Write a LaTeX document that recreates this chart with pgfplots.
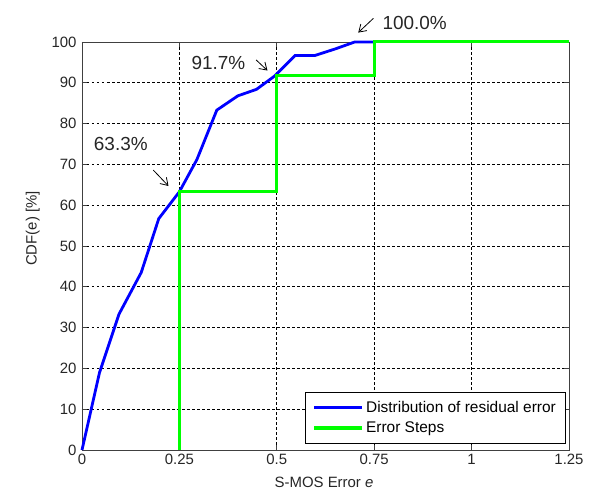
\documentclass[border=0pt]{standalone}
\usepackage{pgfplots}
\pgfplotsset{compat=1.18}
\usepackage{fontspec}
\setmainfont{Liberation Sans}
\usetikzlibrary{arrows.meta}
\definecolor{mblue}{RGB}{0,0,255}
\definecolor{mgreen}{RGB}{0,255,0}
\begin{document}
\begin{tikzpicture}[x=1bp,y=1bp]
\path[use as bounding box] (-82,-42) rectangle (517,450);
\begin{axis}[
  at={(0,0)}, anchor=south west,
  scale only axis, width=487bp, height=408bp,
  xmin=0, xmax=1.25, ymin=0, ymax=100,
  xtick={0,0.25,0.5,0.75,1,1.25},
  xticklabels={0,0.25,0.5,0.75,1,1.25},
  ytick={0,10,20,30,40,50,60,70,80,90,100},
  grid=major,
  grid style={black, dash pattern=on 2.5bp off 2.5bp, line width=0.7bp},
  tick align=inside,
  axis line style={black!75, line width=0.9bp},
  major tick style={black!75, line width=0.8bp},
  major tick length=5bp,
  tick label style={font=\fontsize{15}{17}\selectfont, text=black!85},
  /pgf/number format/assume math mode=true,
  xticklabel style={yshift=-1bp},
  yticklabel style={xshift=-2bp},
  xlabel={S-MOS Error \textit{e}},
  ylabel={CDF(e) [\%]},
  every axis x label/.style={at={(axis description cs:0.497,0)}, anchor=center, yshift=-32.7bp, font=\fontsize{15}{17}\selectfont, text=black!85},
  every axis y label/.style={at={(axis description cs:0,0.543)}, anchor=center, xshift=-49.3bp, rotate=90, font=\fontsize{15}{17}\selectfont, text=black!85},
  legend style={at={(axis description cs:0.9918,0.0164)}, anchor=south east,
    draw=black, fill=white,
    font=\fontsize{15.5}{17}\selectfont, row sep=4bp, inner ysep=7bp, inner xsep=7bp,
    nodes={inner sep=2bp}},
  legend cell align=left,
  legend image code/.code={\draw[#1, line width=3.5bp] (0bp,0bp) -- (48bp,0bp);},
  clip=false,
]
\addplot[mblue, line width=2.8bp] coordinates {
  (0,0) (0.045,19) (0.095,33.3) (0.152,43.5) (0.197,56.7) (0.25,63.3)
  (0.295,71.2) (0.346,83.3) (0.4,86.8) (0.448,88.4) (0.495,91.7)
  (0.547,96.7) (0.598,96.7) (0.65,98.3) (0.7,100) (0.75,100)
};
\addlegendentry{Distribution of residual error}
\addplot[mgreen, line width=3bp] coordinates {
  (0.25,0) (0.25,63.3) (0.5,63.3) (0.5,91.7) (0.75,91.7) (0.75,100) (1.25,100)
};
\addlegendentry{Error Steps}
\node[font=\fontsize{19}{21}\selectfont, text=black!85] at (axis cs:0.0996,75.0) {63.3\%};
\draw[-{Straight Barb[length=7bp,width=9bp]}, line width=0.8bp] (axis cs:0.183,68.6) -- (axis cs:0.222,64.7);
\node[font=\fontsize{19}{21}\selectfont, text=black!85] at (axis cs:0.350,94.8) {91.7\%};
\draw[-{Straight Barb[length=7bp,width=9bp]}, line width=0.8bp] (axis cs:0.447,95.6) -- (axis cs:0.476,93.0);
\node[font=\fontsize{19}{21}\selectfont, text=black!85] at (axis cs:0.854,104.6) {100.0\%};
\draw[-{Straight Barb[length=7bp,width=9bp]}, line width=0.8bp] (axis cs:0.748,105.8) -- (axis cs:0.709,102.3);
\end{axis}
\end{tikzpicture}
\end{document}
